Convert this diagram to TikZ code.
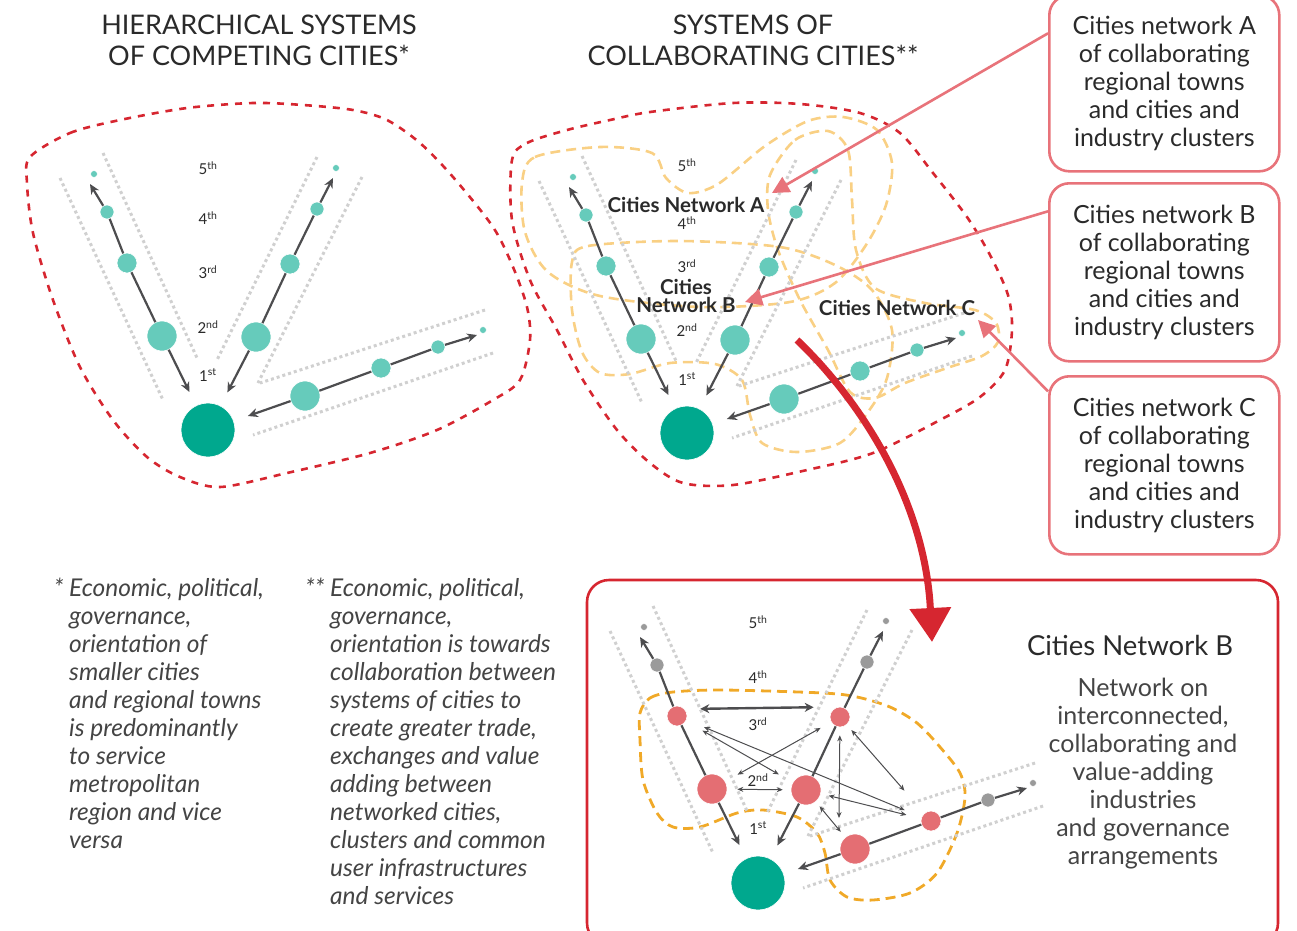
\documentclass[tikz,border=0pt]{standalone}
\usepackage{fontspec}
\setmainfont{Lato}
\usetikzlibrary{arrows.meta,positioning,calc}

\definecolor{towncol}{HTML}{66CBBB}
\definecolor{hubgreen}{HTML}{00A88E}
\definecolor{redtown}{HTML}{E46E73}
\definecolor{graytown}{HTML}{9A9A9A}
\definecolor{flowgray}{HTML}{4D4D4F}
\definecolor{guidegray}{HTML}{D0D0D0}
\definecolor{borderred}{HTML}{D62630}
\definecolor{coral}{HTML}{E8737A}
\definecolor{netlight}{HTML}{F9D084}
\definecolor{netstrong}{HTML}{F0A928}
\definecolor{textdark}{HTML}{2A2A2A}
\definecolor{notegray}{HTML}{444444}

\tikzset{
  town/.style={circle, inner sep=0pt, minimum size=#1, draw=white, line width=0.6pt},
  guide/.style={draw=guidegray, line width=3pt, dash pattern=on 3pt off 3pt},
  flowline/.style={draw=flowgray, line width=2.2pt},
  flow/.style={flowline, -{Stealth[length=10pt,width=9pt]}},
  link/.style={draw=flowgray, line width=1pt, {Stealth[length=6pt,width=5pt]}-{Stealth[length=6pt,width=5pt]}},
  biglink/.style={draw=flowgray, line width=2.4pt, {Stealth[length=9pt,width=9pt]}-{Stealth[length=9pt,width=9pt]}},
  rank/.style={font=\fontsize{15}{17}\selectfont, text=textdark, inner sep=0pt},
  zone/.style={draw=borderred, line width=2.6pt, dash pattern=on 7pt off 7pt},
  netlineA/.style={draw=netlight, line width=2.6pt, dash pattern=on 10pt off 6pt},
  netlineB/.style={draw=netstrong, line width=2.8pt, dash pattern=on 10pt off 6pt},
  title/.style={font=\fontsize{27}{31}\selectfont, text=textdark, align=center},
  maplabel/.style={font=\bfseries\fontsize{20.5}{18}\selectfont, text=textdark, align=center, inner sep=0pt},
  netbox/.style={draw=coral, line width=2.6pt, rounded corners=20pt, minimum width=230pt, anchor=north west,
    font=\fontsize{25}{28}\selectfont, text=textdark, align=center},
  pointer/.style={draw=coral, line width=2.6pt, -{Triangle[length=17pt,width=17pt]}},
  note/.style={font=\itshape\fontsize{24.5}{28}\selectfont, text=notegray, align=left, anchor=north west, inner sep=0pt},
  frame/.style={draw=borderred, line width=2.6pt, rounded corners=22pt}
}

% one hub with its three corridors of towns
\newcommand{\citysystem}[4]{%
  \begin{scope}[shift={#2}]
    \draw[guide] (-148,-252) -- (-45,-30);
    \draw[guide] (-105,-277) -- (-10,-70);
    \draw[guide] (109,-273) -- (9,-70);
    \draw[guide] (154,-253) -- (50,-47);
    \draw[guide] (277,-120) -- (52,-47);
    \draw[guide] (285,-77) -- (45,5);
    \node[town=54, fill=hubgreen] (#1hub) at (0,0) {};
    \node[town=30, fill=#3] (#1l2) at (-46,-94) {};
    \node[town=20, fill=#3] (#1l3) at (-81,-167) {};
    \node[town=14, fill=#4] (#1l4) at (-101,-218) {};
    \node[town=7, fill=#4] (#1l5) at (-114,-256) {};
    \node[town=30, fill=#3] (#1r2) at (48,-93) {};
    \node[town=20, fill=#3] (#1r3) at (82,-166) {};
    \node[town=14, fill=#4] (#1r4) at (109,-221) {};
    \node[town=7, fill=#4] (#1r5) at (128,-262) {};
    \node[town=30, fill=#3] (#1b2) at (97,-34) {};
    \node[town=20, fill=#3] (#1b3) at (173,-62) {};
    \node[town=14, fill=#4] (#1b4) at (230,-83) {};
    \node[town=7, fill=#4] (#1b5) at (275,-100) {};
    \coordinate (#1lout) at (-118,-246);
    \coordinate (#1rout) at (125,-252);
    \coordinate (#1bout) at (269,-95);
    \draw[flowline] (#1l2) -- (#1l3);
    \draw[flowline] (#1l3) -- (#1l4);
    \draw[flow] (#1l4) -- (#1lout);
    \draw[flowline] (#1r2) -- (#1r3);
    \draw[flowline] (#1r3) -- (#1r4);
    \draw[flow] (#1r4) -- (#1rout);
    \draw[flowline] (#1b2) -- (#1b3);
    \draw[flowline] (#1b3) -- (#1b4);
    \draw[flow] (#1b4) -- (#1bout);
    \draw[flow, shorten >=15pt] (#1l2) -- (#1hub);
    \draw[flow, shorten >=15pt] (#1r2) -- (#1hub);
    \draw[flow, shorten >=15pt] (#1b2) -- (#1hub);
  \end{scope}}

% order labels above a hub
\newcommand{\ranks}[7]{%
  \begin{scope}[shift={#2}]
    \node[rank] (#1five) at (0,#3) {5\textsuperscript{th}};
    \node[rank] (#1four) at (0,#4) {4\textsuperscript{th}};
    \node[rank] (#1three) at (0,#5) {3\textsuperscript{rd}};
    \node[rank] (#1two) at (0,#6) {2\textsuperscript{nd}};
    \node[rank] (#1one) at (0,#7) {1\textsuperscript{st}};
  \end{scope}}

\begin{document}
\begin{tikzpicture}[x=1pt, y=-1pt]
  \useasboundingbox (0,0) rectangle (1297,930);

  % titles
  \node[title] (titleL) at (259,40) {HIERARCHICAL SYSTEMS\\OF COMPETING CITIES*};
  \node[title] (titleM) at (753,40) {SYSTEMS OF\\COLLABORATING CITIES**};

  % regional boundaries
  \draw[zone] plot[smooth cycle] coordinates {(30,157) (70,133) (120,120) (187,108) (253,103) (303,105)
    (353,110) (387,120) (420,143) (453,177) (493,227) (513,267) (527,307) (530,340) (520,380) (493,400)
    (437,430) (370,453) (287,473) (220,487) (180,477) (147,457) (113,420) (80,367) (53,300) (33,233) (27,183)};
  \draw[zone] plot[smooth cycle] coordinates {(512,160) (527,143) (567,130) (610,120) (650,112) (733,103)
    (800,104) (860,113) (900,133) (933,173) (967,217) (990,255) (1008,295) (1012,330) (1005,370) (980,397)
    (940,420) (873,453) (807,470) (733,485) (683,483) (650,463) (617,430) (583,380) (557,330) (530,280) (512,220)};

  % networks A, B, C
  \draw[netlineA] plot[smooth cycle] coordinates {(522,183) (535,157) (600,147) (652,153) (666,178) (688,193)
    (718,184) (765,146) (808,121) (843,117) (877,130) (892,163) (886,205) (866,245) (835,283) (790,302)
    (700,307) (600,296) (548,272) (525,232)};
  \draw[netlineA] plot[smooth cycle] coordinates {(572,262) (588,246) (680,241) (780,247) (835,265) (872,290)
    (892,330) (887,378) (868,412) (840,443) (797,452) (762,443) (750,415) (742,380) (715,364) (670,363)
    (630,374) (600,373) (582,352) (572,310)};
  \draw[netlineA] plot[smooth cycle] coordinates {(770,175) (795,140) (828,131) (848,150) (852,200) (856,250)
    (875,288) (925,303) (975,310) (996,323) (998,342) (982,356) (950,367) (905,383) (875,398) (850,392)
    (828,350) (800,300) (778,250) (768,210)};

  % network B, detail
  \draw[netlineB] plot[smooth cycle] coordinates {(640,713) (650,698) (673,692) (723,690) (823,693) (857,697)
    (890,707) (917,723) (940,747) (960,773) (965,797) (957,833) (937,873) (910,893) (873,900) (847,897)
    (830,880) (825,853) (817,833) (797,817) (763,810) (737,813) (700,827) (673,827) (657,813) (643,780) (640,740)};

  \citysystem{h}{(208,430)}{towncol}{towncol}
  \citysystem{c}{(687,433)}{towncol}{towncol}
  \citysystem{d}{(758,883)}{redtown}{graytown}
  \ranks{h}{(208,430)}{-262}{-212}{-158}{-103}{-55}
  \ranks{c}{(687,433)}{-268}{-210}{-167}{-103}{-54}
  \ranks{d}{(758,883)}{-261}{-206}{-159}{-103}{-55}

  \node[maplabel] (labA) at (686,205) {Cities Network A};
  \node[maplabel] (labB) at (686,296) {Cities\\Network B};
  \node[maplabel] (labC) at (897,308) {Cities Network C};

  % links inside network B
  \draw[biglink, shorten <=13pt, shorten >=16pt] ([yshift=7pt]dl3.east) -- ([yshift=10pt]dr3.west);
  \draw[link, shorten <=19pt, shorten >=16pt] (dl3) -- (dr2);
  \draw[link, shorten <=19pt, shorten >=18pt] (dl3) -- (db3);
  \draw[link, shorten <=14pt, shorten >=12pt] (dl2) -- (dr3);
  \draw[link, shorten <=10pt, shorten >=8pt] (dl2) -- (dr2);
  \coordinate (dlow) at (839,818);
  \draw[link, shorten <=8pt] (dr3) -- (dlow);
  \draw[link, shorten <=7pt, shorten >=30pt] (dr3) -- (db3);
  \draw[link, shorten <=8pt, shorten >=15pt] (dr2) -- (db3);
  \draw[link, shorten <=6pt, shorten >=7pt] (dr2) -- (db2);

  % detail frame
  \draw[frame] (587,580) rectangle (1278,945);
  \node[font=\fontsize{27.5}{28}\selectfont, text=textdark] (detailT) at (1130,645) {Cities Network B};
  \node[font=\fontsize{25}{28}\selectfont, text=notegray, align=center] (detailD) at (1143,774)
    {Network on\\interconnected,\\collaborating and\\value-adding\\industries\\and governance\\arrangements};

  % zoom arrow
  \draw[draw=borderred, line width=7pt, -{Triangle[length=34pt,width=40pt]}]
    (797,340) .. controls (860,400) and (925,500) .. (932,642);

  % explanation boxes
  \node[netbox, minimum height=176pt] (boxA) at (1048,-6)
    {Cities network A\\of collaborating\\regional towns\\and cities and\\industry clusters};
  \node[netbox, minimum height=178pt] (boxB) at (1048,182)
    {Cities network B\\of collaborating\\regional towns\\and cities and\\industry clusters};
  \node[netbox, minimum height=178pt] (boxC) at (1048,375)
    {Cities network C\\of collaborating\\regional towns\\and cities and\\industry clusters};
  \coordinate (tipA) at (772,193);
  \coordinate (tipB) at (745,302);
  \coordinate (tipC) at (978,320);
  \draw[pointer] ([yshift=50pt]boxA.west) -- (tipA);
  \draw[pointer] ([yshift=61pt]boxB.west) -- (tipB);
  \draw[pointer] ([yshift=74pt]boxC.west) -- (tipC);

  % footnotes
  \node[note] (noteL) at (69,578) {\llap{* }Economic, political,\\governance,\\orientation of\\smaller cities\\and regional towns\\is predominantly\\to service\\metropolitan\\region and vice\\versa};
  \node[note] (noteM) at (330,578) {\llap{** }Economic, political,\\governance,\\orientation is towards\\collaboration between\\systems of cities to\\create greater trade,\\exchanges and value\\adding between\\networked cities,\\clusters and common\\user infrastructures\\and services};
\end{tikzpicture}
\end{document}
